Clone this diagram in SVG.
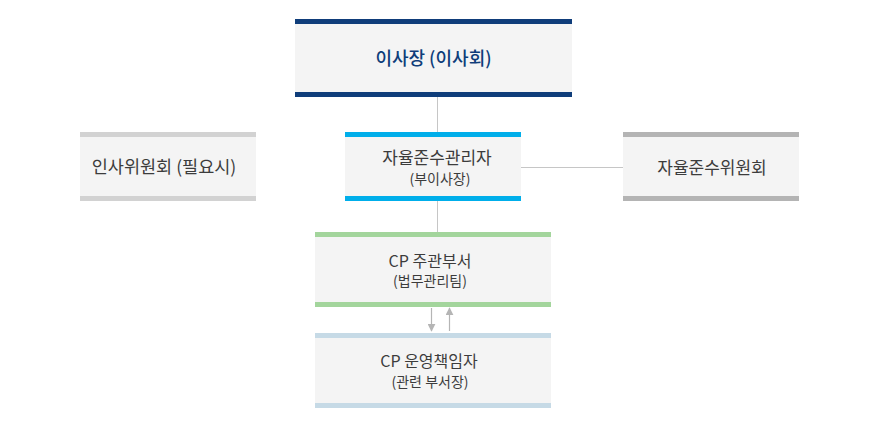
<svg xmlns="http://www.w3.org/2000/svg" width="882" height="424" viewBox="0 0 882 424">
<style>
.box{fill:#f4f4f4}
.t{font-family:"Noto Sans CJK KR","Noto Sans",sans-serif;fill:#3c3c3c;text-anchor:middle}
.main{font-size:16px}
.side{font-size:17px}
.sub{font-size:14px}
.top{font-size:18px;fill:#0f3d7a;font-weight:500}
.conn{stroke:#c6c6c6;stroke-width:1;fill:none}
.arr{stroke:#b5b5b5;stroke-width:1.2;fill:none}
</style>
<defs>
<marker id="ah" viewBox="0 0 10 10" refX="9" refY="5" markerWidth="8" markerHeight="8" markerUnits="userSpaceOnUse" orient="auto">
<path d="M0,0 L10,5 L0,10 z" fill="#b5b5b5"/>
</marker>
</defs>
<g id="connectors">
<line class="conn" x1="437.5" y1="97" x2="437.5" y2="132"/>
<line class="conn" x1="437.5" y1="201" x2="437.5" y2="232"/>
<line class="conn" x1="521" y1="167.5" x2="623" y2="167.5"/>
<line class="arr" x1="431.5" y1="308" x2="431.5" y2="331" marker-end="url(#ah)"/>
<line class="arr" x1="449.5" y1="331" x2="449.5" y2="308" marker-end="url(#ah)"/>
</g>
<g id="board">
<rect class="box" x="295" y="19" width="277" height="78"/>
<rect x="295" y="19" width="277" height="5" fill="#0f3d7a"/>
<rect x="295" y="92" width="277" height="5" fill="#0f3d7a"/>
<text class="t top" x="433.5" y="64.5">이사장 (이사회)</text>
</g>
<g id="hr-committee">
<rect class="box" x="80" y="132" width="176" height="69"/>
<rect x="80" y="132" width="176" height="5" fill="#d2d2d2"/>
<rect x="80" y="196" width="176" height="5" fill="#d2d2d2"/>
<text class="t side" x="164" y="173" style="font-size:17.5px">인사위원회 (필요시)</text>
</g>
<g id="compliance-officer">
<rect class="box" x="345" y="132" width="176" height="69"/>
<rect x="345" y="132" width="176" height="5" fill="#00aeea"/>
<rect x="345" y="196" width="176" height="5" fill="#00aeea"/>
<text class="t side" x="437" y="164">자율준수관리자</text>
<text class="t sub" x="440" y="183.5">(부이사장)</text>
</g>
<g id="compliance-committee">
<rect class="box" x="623" y="132" width="176" height="69"/>
<rect x="623" y="132" width="176" height="5" fill="#b4b4b4"/>
<rect x="623" y="196" width="176" height="5" fill="#b4b4b4"/>
<text class="t side" x="712" y="173.5">자율준수위원회</text>
</g>
<g id="cp-department">
<rect class="box" x="315" y="232" width="236" height="75"/>
<rect x="315" y="232" width="236" height="5" fill="#a3d59c"/>
<rect x="315" y="302" width="236" height="5" fill="#a3d59c"/>
<text class="t main" x="430" y="266.5">CP 주관부서</text>
<text class="t sub" x="430" y="286">(법무관리팀)</text>
</g>
<g id="cp-manager">
<rect class="box" x="315" y="333" width="236" height="75"/>
<rect x="315" y="333" width="236" height="5" fill="#c6dae6"/>
<rect x="315" y="403" width="236" height="5" fill="#c6dae6"/>
<text class="t main" x="429" y="367">CP 운영책임자</text>
<text class="t sub" x="430" y="386.5">(관련 부서장)</text>
</g>
</svg>
